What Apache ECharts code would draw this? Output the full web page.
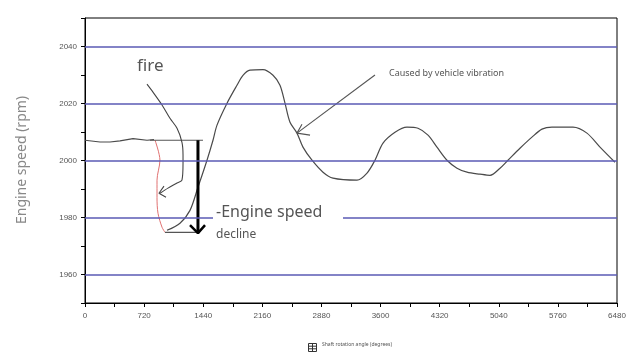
<!DOCTYPE html>
<html><head><meta charset="utf-8">
<script src="https://cdn.jsdelivr.net/npm/echarts@6/dist/echarts.min.js"></script>
<style>html,body{margin:0;padding:0;background:#fff}#c{width:640px;height:361px}</style>
</head><body><div id="c"></div>
<script>
// ---- data (degrees, rpm) ----
const flatDeg = [0, 183, 304, 426, 585, 755, 840];
const flatRpm = [2007.1, 2006.5, 2006.5, 2006.9, 2007.7, 2007.1, 2007.3];
const dipDeg = [853, 913, 877, 877, 889, 938, 974];
const dipRpm = [2007.1, 2000.1, 1993.1, 1987.1, 1981.5, 1976.6, 1974.8];
const riseDeg = [999, 1157, 1279, 1376, 1486, 1559, 1608, 1730, 1851, 1924, 2010, 2168, 2290, 2375, 2436, 2497, 2582, 2655, 2765, 2899, 3021, 3313, 3435, 3532, 3630, 3776, 3922, 4056, 4178, 4287, 4409, 4531, 4653, 4811, 4933, 5055, 5152, 5298, 5444, 5566, 5688, 5944, 6114, 6273, 6455];
const riseRpm = [1975.5, 1978.0, 1982.5, 1990.6, 2000.1, 2007.1, 2012.4, 2020.1, 2026.4, 2029.9, 2031.7, 2031.9, 2029.9, 2026.4, 2020.1, 2013.4, 2009.6, 2004.7, 2000.1, 1995.9, 1993.8, 1993.1, 1995.6, 2000.1, 2006.1, 2009.9, 2011.7, 2011.3, 2008.9, 2004.7, 2000.1, 1997.3, 1995.9, 1995.2, 1994.8, 1997.3, 2000.1, 2004.3, 2008.2, 2011.0, 2011.7, 2011.7, 2009.6, 2004.7, 1999.4];
const bracketTopDeg = [792, 1437], bracketTopRpm = [2007.1, 2007.1];
const bracketBotDeg = [974, 1364], bracketBotRpm = [1974.8, 1974.8];
const fireDeg = [755, 828, 938, 1035, 1121, 1181, 1194, 1194, 1181, 1121, 1011, 913];
const fireRpm = [2026.8, 2024.0, 2019.5, 2014.8, 2011.3, 2006.4, 2001.9, 1999.1, 1993.1, 1992.1, 1990.3, 1988.5];
const fireHeadDeg = [962, 901, 987], fireHeadRpm = [1991.0, 1988.5, 1987.1];
const vibDeg = [3532, 2582], vibRpm = [2030.0, 2009.6];
const vibHeadDeg = [2643, 2582, 2741], vibHeadRpm = [2012.7, 2009.6, 2008.9];
const dropDeg = [1376, 1376], dropRpm = [2007.1, 1974.5];
const dropHeadDeg = [1279, 1376, 1462], dropHeadRpm = [1977.3, 1974.5, 1977.3];
const gridRpm = [1960, 1980, 2000, 2020, 2040];
const xMin = 0, xMax = 6480, xStep = 360, xLabelStep = 720;
const yMin = 1950, yMax = 2050, yStep = 10, yLabelStep = 20;

const zip = (a, b) => a.map((v, i) => [v, b[i]]);
const ln = (x, y, color, width, extra) => Object.assign({
  type: 'line', data: zip(x, y), symbol: 'none', silent: true,
  lineStyle: { color: color, width: width }, animation: false
}, extra || {});

const chart = echarts.init(document.getElementById('c'), null, { renderer: 'canvas' });
const axisFont = { fontFamily: 'Liberation Sans, Arial, sans-serif', fontSize: 8, color: '#555' };
chart.setOption({
  animation: false,
  grid: { left: 85, right: 23, top: 18, bottom: 58, show: true, borderColor: '#000', borderWidth: 1 },
  xAxis: {
    type: 'value', min: xMin, max: xMax, interval: xStep,
    axisLine: { lineStyle: { color: '#000', width: 1 } },
    axisTick: { length: 4, lineStyle: { color: '#000' } },
    splitLine: { show: false },
    axisLabel: Object.assign({ margin: 9, formatter: v => (v % xLabelStep === 0 ? String(v) : '') }, axisFont)
  },
  yAxis: {
    type: 'value', min: yMin, max: yMax, interval: yStep,
    axisLine: { show: true, lineStyle: { color: '#000', width: 1 } },
    axisTick: { show: true, length: 4, lineStyle: { color: '#000' } },
    splitLine: { show: false },
    axisLabel: Object.assign({ margin: 8, formatter: v => (v % yLabelStep === 0 ? String(v) : '') }, axisFont)
  },
  series: [
    ln(flatDeg, flatRpm, '#4a4a4a', 1.2, {
      markLine: {
        silent: true, symbol: 'none', label: { show: false },
        lineStyle: { color: '#5a5ab4', width: 1.5, type: 'solid' },
        data: gridRpm.map(v => ({ yAxis: v }))
      }
    }),
    ln(dipDeg, dipRpm, '#e07070', 1, { smooth: 0.3 }),
    ln(riseDeg, riseRpm, '#4a4a4a', 1.2, { smooth: 0.3 }),
    ln(bracketTopDeg, bracketTopRpm, '#555', 1.2),
    ln(bracketBotDeg, bracketBotRpm, '#555', 1.2),
    ln(fireDeg, fireRpm, '#444', 1.1, { smooth: 0.3 }),
    ln(fireHeadDeg, fireHeadRpm, '#444', 1.1),
    ln(vibDeg, vibRpm, '#555', 1.1),
    ln(vibHeadDeg, vibHeadRpm, '#555', 1.1),
    ln(dropDeg, dropRpm, '#000', 3),
    ln(dropHeadDeg, dropHeadRpm, '#000', 2.5)
  ],
  graphic: [
    { type: 'text', z: 100, left: 137, top: 58, style: { text: 'fire', font: '17px "Noto Sans", Roboto, sans-serif', fill: '#555' } },
    { type: 'text', z: 100, left: 389, top: 69, style: { text: 'Caused by vehicle vibration', font: '9px "Noto Sans", Roboto, sans-serif', fill: '#555' } },
    { type: 'rect', z: 99, shape: { x: 213, y: 212, width: 130, height: 12 }, style: { fill: '#fff' } },
    { type: 'text', z: 100, left: 216, top: 204, style: { text: '-Engine speed', font: '16px "Noto Sans", Roboto, sans-serif', fill: '#555' } },
    { type: 'text', z: 100, left: 216, top: 229, style: { text: 'decline', font: '12px "Noto Sans", Roboto, sans-serif', fill: '#555' } },
    { type: 'text', z: 100, x: 22, y: 160, rotation: Math.PI / 2, style: { text: 'Engine speed (rpm)', font: '14px "Noto Sans", Roboto, sans-serif', fill: '#888', align: 'center', verticalAlign: 'middle' } },
    { type: 'text', z: 100, left: 322, top: 342, style: { text: 'Shaft rotation angle (degrees)', font: '5px "Noto Sans", sans-serif', fill: '#555' } },
    { type: 'group', z: 100, left: 306, top: 341, children: [
      { type: 'rect', shape: { x: 0, y: 0, width: 8, height: 8 }, style: { fill: 'none', stroke: '#333', lineWidth: 1 } },
      { type: 'line', shape: { x1: 0, y1: 2.7, x2: 8, y2: 2.7 }, style: { stroke: '#333', lineWidth: 1 } },
      { type: 'line', shape: { x1: 0, y1: 5.3, x2: 8, y2: 5.3 }, style: { stroke: '#333', lineWidth: 1 } },
      { type: 'line', shape: { x1: 4, y1: 0, x2: 4, y2: 8 }, style: { stroke: '#333', lineWidth: 1 } }
    ] }
  ]
});
</script></body></html>
